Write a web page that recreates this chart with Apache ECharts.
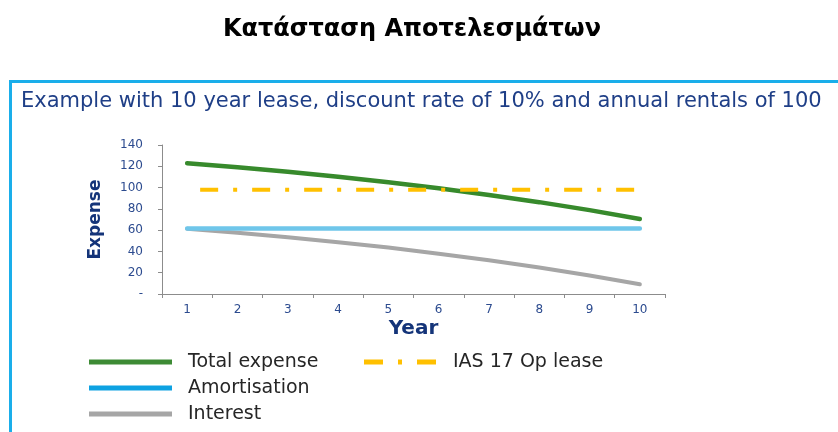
<!DOCTYPE html>
<html>
<head>
<meta charset="utf-8">
<script src="https://cdn.jsdelivr.net/npm/echarts@6/dist/echarts.min.js"></script>
<style>
html,body{margin:0;padding:0;background:#ffffff;}
#chart{width:838px;height:432px;}
</style>
</head>
<body>
<div id="chart"></div>
<script>
const years = ['1','2','3','4','5','6','7','8','9','10'];
const totalExpense = [122.9, 119.0, 114.8, 110.1, 105.0, 99.4, 93.1, 86.3, 78.8, 70.5];
const amortisation = [61.5, 61.5, 61.5, 61.5, 61.5, 61.5, 61.5, 61.5, 61.5, 61.5];
const interest = [61.4, 57.6, 53.4, 48.7, 43.6, 37.9, 31.7, 24.9, 17.4, 9.1];
const ias17OpLease = [98, 98, 98, 98, 98, 98, 98, 98, 98, 98];
const yTickValues = [0, 20, 40, 60, 80, 100, 120, 140];
const yTickLabels = ['-', '20', '40', '60', '80', '100', '120', '140'];

const GREEN = '#378a2c', BLUE_LINE = '#6fc6ea', BLUE_LEG = '#0ea2e2', GRAY = '#a6a6a6', YELLOW = '#ffc000';
const NAVY = '#143479', LABEL = '#2c4b8f';
const FONT = 'DejaVu Sans';

const chart = echarts.init(document.getElementById('chart'), null, {renderer: 'canvas'});
chart.setOption({
  backgroundColor: '#ffffff',
  animation: false,
  title: [
    {
      text: 'Κατάσταση Αποτελεσμάτων',
      left: 412, top: 15, padding: 0, textAlign: 'center',
      textStyle: {fontFamily: 'DejaVu Sans', fontWeight: 'bold', fontSize: 24, color: '#000000', lineHeight: 30}
    },
    {
      text: 'Example with 10 year lease, discount rate of 10% and annual rentals of 100',
      left: 21, top: 90, padding: 0,
      textStyle: {fontFamily: FONT, fontWeight: 'normal', fontSize: 21, color: '#1f3f87', lineHeight: 24}
    }
  ],
  graphic: [
    {type: 'line', shape: {x1: 9, y1: 81.5, x2: 838, y2: 81.5}, style: {stroke: '#1aaeea', lineWidth: 3}, silent: true},
    {type: 'line', shape: {x1: 10.5, y1: 80, x2: 10.5, y2: 432}, style: {stroke: '#1aaeea', lineWidth: 3}, silent: true}
  ],
  grid: {left: 162, right: 173, top: 145, bottom: 138, containLabel: false},
  xAxis: {
    type: 'category', data: years, boundaryGap: true,
    axisLine: {lineStyle: {color: '#8c8c8c', width: 1}},
    axisTick: {show: true, length: 4, inside: false, lineStyle: {color: '#8c8c8c'}},
    axisLabel: {color: LABEL, fontFamily: FONT, fontSize: 12, margin: 10},
    name: 'Year', nameLocation: 'middle', nameGap: 25,
    nameTextStyle: {fontFamily: FONT, fontWeight: 'bold', fontSize: 20, color: NAVY}
  },
  yAxis: {
    type: 'value', min: 0, max: 140, interval: 20,
    axisLine: {show: true, lineStyle: {color: '#8c8c8c', width: 1}},
    axisTick: {show: true, length: 4, inside: false, lineStyle: {color: '#8c8c8c'}},
    splitLine: {show: false},
    axisLabel: {
      color: LABEL, fontFamily: FONT, fontSize: 12, margin: 19,
      formatter: function (v) { const i = yTickValues.indexOf(v); return i >= 0 ? yTickLabels[i] : String(v); }
    },
    name: 'Expense', nameLocation: 'middle', nameGap: 58, nameRotate: 90,
    nameTextStyle: {fontFamily: FONT, fontWeight: 'bold', fontSize: 17, color: NAVY}
  },
  legend: [
    {
      orient: 'vertical', left: 89, top: 352, padding: 0,
      itemWidth: 83, itemHeight: 5, itemGap: 6, symbolKeepAspect: false,
      selectedMode: false,
      itemStyle: {borderWidth: 0},
      textStyle: {fontFamily: FONT, fontSize: 19, color: '#262626', lineHeight: 20, padding: [0, 0, 0, 11]},
      data: [
        {name: 'Total expense', icon: 'rect', itemStyle: {color: '#3d8b35', borderWidth: 0}},
        {name: 'Amortisation', icon: 'rect', itemStyle: {color: BLUE_LEG, borderWidth: 0}},
        {name: 'Interest', icon: 'rect', itemStyle: {color: GRAY, borderWidth: 0}}
      ]
    },
    {
      orient: 'vertical', left: 364, top: 352, padding: 0,
      itemWidth: 72, itemHeight: 5, itemGap: 6, symbolKeepAspect: false,
      selectedMode: false,
      itemStyle: {borderWidth: 0},
      textStyle: {fontFamily: FONT, fontSize: 19, color: '#262626', lineHeight: 20, padding: [0, 0, 0, 12]},
      data: [
        {name: 'IAS 17 Op lease', icon: 'path://M0,0h19v5h-19z M34,0h4v5h-4z M53,0h19v5h-19z', itemStyle: {color: YELLOW, borderWidth: 0}}
      ]
    }
  ],
  series: [
    {
      name: 'Interest', type: 'line', data: interest, symbol: 'none', smooth: false,
      color: GRAY, lineStyle: {color: GRAY, width: 4, cap: 'round'}, z: 2
    },
    {
      name: 'Total expense', type: 'line', data: totalExpense, symbol: 'none',
      color: GREEN, lineStyle: {color: GREEN, width: 4.5, cap: 'round'}, z: 3
    },
    {
      name: 'Amortisation', type: 'line', data: amortisation, symbol: 'none',
      color: BLUE_LINE, lineStyle: {color: BLUE_LINE, width: 4.5, cap: 'round'}, z: 4
    },
    {
      name: 'IAS 17 Op lease', type: 'line', data: ias17OpLease, symbol: 'none',
      color: YELLOW, lineStyle: {color: YELLOW, width: 4, type: [18, 15, 4, 15], dashOffset: 39, cap: 'butt'}, z: 5
    }
  ]
});
</script>
</body>
</html>
